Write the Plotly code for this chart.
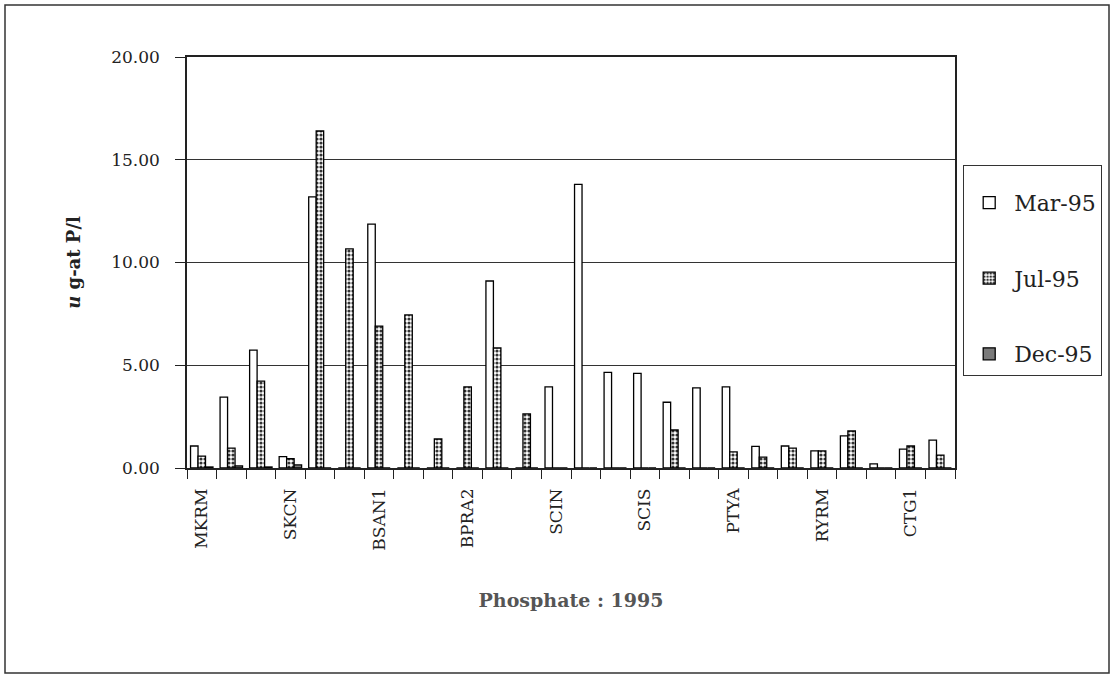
import plotly.graph_objects as go

# 26 sampling stations; only every third one is labelled on the axis
stations = ["MKRM", "", "", "SKCN", "", "", "BSAN1", "", "", "BPRA2", "", "",
            "SCIN", "", "", "SCIS", "", "", "PTYA", "", "", "RYRM", "", "",
            "CTG1", ""]
mar95 = [1.07, 3.45, 5.74, 0.55, 13.19, 0.0, 11.87, 0.0, 0.0, 0.0, 9.10, 0.0,
         3.95, 13.80, 4.65, 4.60, 3.20, 3.90, 3.95, 1.05, 1.07, 0.83, 1.56, 0.20,
         0.92, 1.36]
jul95 = [0.58, 0.97, 4.23, 0.45, 16.40, 10.66, 6.90, 7.45, 1.41, 3.95, 5.84, 2.63,
         0.0, 0.0, 0.0, 0.0, 1.85, 0.0, 0.78, 0.53, 0.97, 0.83, 1.80, 0.0,
         1.07, 0.63]
dec95 = [0.05, 0.10, 0.05, 0.15, 0.0, 0.0, 0.0, 0.0, 0.0, 0.0, 0.0, 0.0,
         0.0, 0.0, 0.0, 0.0, 0.0, 0.0, 0.0, 0.0, 0.0, 0.0, 0.0, 0.0,
         0.0, 0.0]
series_names = ["Mar-95", "Jul-95", "Dec-95"]
y_ticks = [0, 5, 10, 15, 20]

FONT = "DejaVu Serif"
x = list(range(len(stations)))

fig = go.Figure()
fig.add_trace(go.Bar(
    x=x, y=mar95, name=series_names[0], legendgroup="a",
    marker=dict(color="white", line=dict(color="black", width=1.3)),
))
fig.add_trace(go.Bar(
    x=x, y=jul95, name=series_names[1], legendgroup="b",
    marker=dict(color="white", line=dict(color="black", width=1.3),
                pattern=dict(shape=".", fgcolor="#333333", bgcolor="white",
                             size=4, solidity=0.5, fillmode="replace")),
))
fig.add_trace(go.Bar(
    x=x, y=dec95, name=series_names[2], legendgroup="c",
    marker=dict(color="#7a7a7a", line=dict(color="black", width=1.3)),
))

W, H = 1114, 678
L, R, T, B = 187, 159, 57, 210
pw, ph = W - L - R, H - T - B

def px_to_paper_x(px):
    return (px - L) / pw

def px_to_paper_y(py):
    return (H - B - py) / ph

fig.update_layout(
    width=W, height=H,
    margin=dict(l=L, r=R, t=T, b=B),
    paper_bgcolor="white", plot_bgcolor="white",
    barmode="group", bargap=0.24, bargroupgap=0.0,
    font=dict(family=FONT, color="#222", size=17),
    legend=dict(
        x=px_to_paper_x(963), y=px_to_paper_y(165),
        xanchor="left", yanchor="top",
        bordercolor="#333", borderwidth=1.2, bgcolor="white",
        font=dict(family=FONT, size=22, color="#222"),
        traceorder="grouped", tracegroupgap=44,
        itemwidth=40,
        title=dict(text="&nbsp;", font=dict(size=12)),
    ),
    xaxis=dict(
        range=[-0.5, len(stations) - 0.5],
        tickmode="array", tickvals=x, ticktext=stations,
        tickangle=-90, ticks="", ticklabelstandoff=12,
        tickfont=dict(family=FONT, size=17, color="#222"),
        showline=True, linecolor="#222", linewidth=1.5, mirror=True,
        showgrid=False, zeroline=False,
        minor=dict(tickmode="array",
                   tickvals=[i - 0.5 for i in range(len(stations) + 1)],
                   ticks="outside", ticklen=9, tickcolor="#222", tickwidth=1,
                   showgrid=False),
        title=dict(text="<b>Phosphate : 1995</b>", standoff=44,
                   font=dict(family=FONT, size=19, color="#555")),
    ),
    yaxis=dict(
        range=[0, 20], tickmode="array", tickvals=y_ticks,
        tickformat=".2f", ticks="outside", ticklen=10, tickcolor="#222",
        ticklabelstandoff=12,
        tickfont=dict(family=FONT, size=17, color="#222"),
        showline=True, linecolor="#222", linewidth=1.5, mirror=True,
        showgrid=True, gridcolor="#333", gridwidth=1, zeroline=False,
        title=dict(text="<b><i>u</i> g-at P/l</b>", standoff=26,
                   font=dict(family=FONT, size=18, color="#222")),
    ),
    shapes=[dict(type="rect", xref="paper", yref="paper",
                 x0=px_to_paper_x(5), x1=px_to_paper_x(1109),
                 y0=px_to_paper_y(673), y1=px_to_paper_y(5),
                 line=dict(color="#333", width=1.5), fillcolor="rgba(0,0,0,0)",
                 layer="below")],
)

fig.write_html("out.html", config={"displayModeBar": False},
               post_script="document.body.style.margin='0';")
